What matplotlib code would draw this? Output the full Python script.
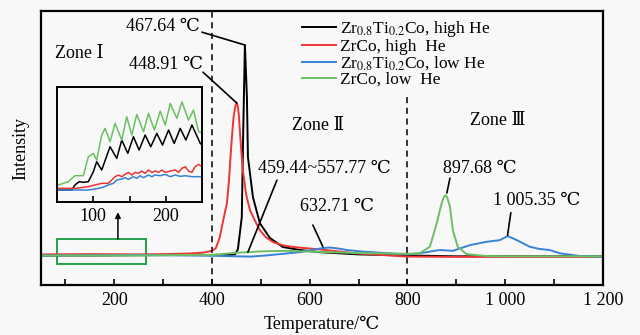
import matplotlib
matplotlib.use("Agg")
import matplotlib.pyplot as plt
from matplotlib.patches import Rectangle

plt.rcParams['font.family'] = ['Liberation Serif', 'DejaVu Serif', 'Noto Sans CJK SC']
plt.rcParams['mathtext.fontset'] = 'stix'
plt.rcParams['font.size'] = 13

# ---- main curves (temperature in C, intensity in a.u.) ----
black_t = [50, 150, 250, 350, 400, 440, 447, 453, 461, 464, 467.4, 471.5, 473.6, 483.8,
           498, 518.5, 545, 580, 621, 700, 800, 900, 1000, 1100, 1200]
black_i = [0.108, 0.108, 0.109, 0.110, 0.110, 0.110, 0.112, 0.13, 0.248, 0.566, 0.876, 0.686,
           0.467, 0.321, 0.226, 0.172, 0.139, 0.128, 0.120, 0.112, 0.108, 0.105, 0.105, 0.105, 0.105]

red_t = [50, 150, 250, 300, 350, 380, 400, 408, 416, 424, 430.6, 434.7, 438, 440.8, 444, 447,
         449, 451, 453, 455, 457, 460, 463, 470, 477.6, 488, 498, 510, 524.7, 545, 565.6, 621,
         700, 800, 900, 1000, 1100, 1200]
red_i = [0.112, 0.113, 0.112, 0.113, 0.115, 0.118, 0.125, 0.135, 0.175, 0.245, 0.299, 0.38,
         0.47, 0.54, 0.61, 0.645, 0.660, 0.664, 0.652, 0.62, 0.566, 0.49, 0.42, 0.33, 0.274,
         0.235, 0.200, 0.175, 0.157, 0.145, 0.139, 0.130, 0.115, 0.104, 0.103, 0.103, 0.103,
         0.103]

blue_t = [50, 150, 250, 350, 400, 450, 480, 510, 550, 580, 610, 627, 641, 660, 676, 710, 744,
          799, 825, 845, 866, 893, 910, 928, 962, 989, 1005, 1024, 1050, 1070, 1091, 1112,
          1153, 1200]
blue_i = [0.108, 0.109, 0.110, 0.108, 0.107, 0.105, 0.104, 0.108, 0.115, 0.120, 0.130, 0.135,
          0.137, 0.133, 0.128, 0.122, 0.118, 0.112, 0.116, 0.122, 0.128, 0.125, 0.135, 0.146,
          0.158, 0.164, 0.179, 0.164, 0.140, 0.132, 0.128, 0.116, 0.106, 0.103]

green_t = [50, 150, 250, 350, 400, 450, 500, 550, 600, 700, 800, 825, 846, 860, 868, 872, 875,
           878, 881, 887, 893, 903, 921, 962, 1000, 1100, 1200]
green_i = [0.108, 0.108, 0.108, 0.110, 0.110, 0.118, 0.123, 0.125, 0.122, 0.117, 0.114, 0.116,
           0.140, 0.226, 0.285, 0.310, 0.322, 0.328, 0.322, 0.286, 0.200, 0.140, 0.113, 0.106,
           0.105, 0.105, 0.105]

# ---- inset (zone I, magnified, a.u.) ----
in_green_t = [51.8, 65.6, 74.8, 86.3, 93.2, 100.1, 104.7, 111.6, 116.2, 123.1, 130, 139.2, 146.1,
              153, 159.9, 169.1, 176, 184.2, 192.1, 199, 205.9, 215.1, 222, 231.1, 238, 245, 251.8]
in_green_i = [51, 61, 79, 79, 136, 146, 126, 201, 221, 181, 236, 186, 256, 201, 263, 211, 266,
              216, 273, 231, 296, 251, 301, 246, 276, 211, 206]

in_black_t = [51.8, 70, 74.8, 80.6, 86.3, 93.2, 100.1, 104.7, 111.6, 123.1, 132.3, 139.2, 147.5,
              155.3, 163.1, 171.4, 179.2, 187.5, 195.3, 203.6, 211.4, 219.7, 227.5, 235.8, 247.3,
              251.8]
in_black_i = [36, 36, 51, 61, 59, 61, 91, 121, 96, 166, 131, 186, 146, 196, 156, 201, 166, 206,
              171, 216, 176, 221, 186, 231, 176, 166]

in_red_t = [51.8, 74.8, 93.2, 102, 111.6, 120.8, 125.4, 130, 134.6, 139.2, 143.8, 148.4, 153,
            157.6, 162.2, 166.8, 171.4, 176, 180.6, 185.2, 189.8, 194.4, 199, 205.9, 212.8,
            217.4, 222, 226.6, 231.1, 235.7, 240.3, 245, 249.5, 251.8]
in_red_i = [41, 41, 46, 51, 56, 56, 66, 76, 81, 76, 83, 89, 81, 89, 86, 93, 86, 96, 89, 93, 89,
            96, 89, 93, 96, 89, 101, 106, 93, 89, 106, 113, 106, 111]

in_blue_t = [51.8, 93.2, 102, 111.6, 120.8, 127.7, 132.3, 139.2, 143.8, 148.4, 155.3, 159.9,
             164.5, 169.1, 176, 180.6, 185.2, 192.1, 199, 205.9, 212.8, 219.7, 226.6, 235.7,
             245, 251.8]
in_blue_i = [36, 36, 39, 43, 51, 56, 66, 69, 73, 68, 76, 71, 79, 73, 81, 76, 81, 79, 83, 76, 81,
             77, 79, 76, 76, 76]

labels = ['Zr$_{0.8}$Ti$_{0.2}$Co, high He', 'ZrCo, high  He',
          'Zr$_{0.8}$Ti$_{0.2}$Co, low He', 'ZrCo, low  He']
colors = ['#000000', '#f03434', '#3a82d6', '#6cbf62']

bg = '#f8f8f8'
fig = plt.figure(figsize=(6.4, 3.35), dpi=100, facecolor=bg)
ax = fig.add_axes([0.064, 0.149, 0.878, 0.818])
ax.set_facecolor(bg)

series = [(black_t, black_i), (red_t, red_i), (blue_t, blue_i), (green_t, green_i)]
for (t, i), c, lab in zip(series, colors, labels):
    ax.plot(t, i, color=c, lw=1.4, label=lab)

ax.set_xlim(50, 1200)
ax.set_ylim(0, 1)
ax.set_xticks([200, 400, 600, 800, 1000, 1200], ['200', '400', '600', '800', '1 000', '1 200'])
ax.set_xticks([100, 300, 500, 700, 900, 1100], minor=True)
ax.set_yticks([])
ax.tick_params(axis='x', which='both', direction='in', length=4, width=1.2, pad=5)
for s in ax.spines.values():
    s.set_linewidth(1.6)

ax.axvline(400, color='k', ls=(0, (4, 3)), lw=1.1)
ax.axvline(800, color='k', ls=(0, (4, 3)), lw=1.1, ymax=0.7)

ax.set_xlabel('Temperature/℃', labelpad=5)
ax.set_ylabel('Intensity', labelpad=8)

leg = ax.legend(loc='upper left', bbox_to_anchor=(0.464, 0.97), frameon=False, fontsize=12.5,
                handlelength=2.0, handletextpad=0.2, labelspacing=-0.03, borderpad=0,
                borderaxespad=0)

# zone labels
ax.text(78.6, 0.845, 'Zone Ⅰ', va='center', ha='left')
ax.text(563.5, 0.584, 'Zone Ⅱ', va='center', ha='left')
ax.text(928, 0.60, 'Zone Ⅲ', va='center', ha='left')

# peak annotations
line_kw = dict(arrowstyle='-', lw=1.2, color='k', shrinkA=0, shrinkB=0)
ax.text(375, 0.942, '467.64 ℃', ha='right', va='center')
ax.annotate('', xy=(467.4, 0.876), xytext=(379.4, 0.923), arrowprops=line_kw)
ax.text(381, 0.805, '448.91 ℃', ha='right', va='center')
ax.annotate('', xy=(451, 0.664), xytext=(381.5, 0.777), arrowprops=line_kw)
ax.text(494, 0.427, '459.44~557.77 ℃', ha='left', va='center')
ax.annotate('', xy=(473.5, 0.12), xytext=(532.9, 0.383), arrowprops=line_kw)
ax.text(580, 0.288, '632.71 ℃', ha='left', va='center')
ax.annotate('', xy=(627, 0.14), xytext=(606.5, 0.219), arrowprops=line_kw)
ax.text(872.5, 0.427, '897.68 ℃', ha='left', va='center')
ax.annotate('', xy=(880.7, 0.336), xytext=(887, 0.39), arrowprops=line_kw)
ax.text(975, 0.31, '1 005.35 ℃', ha='left', va='center')
ax.annotate('', xy=(1004.9, 0.182), xytext=(1011.6, 0.264), arrowprops=line_kw)

# zoom box and arrow
ax.add_patch(Rectangle((82.7, 0.077), 182, 0.091, fill=False, ec='#22a04a', lw=1.4))
ax.annotate('', xy=(207.5, 0.266), xytext=(207.5, 0.168),
            arrowprops=dict(arrowstyle='-|>', lw=1.1, color='k', mutation_scale=8,
                            shrinkA=0, shrinkB=0))

# inset
axin = fig.add_axes([0.089, 0.397, 0.227, 0.343])
axin.set_facecolor(bg)
inset = [(in_black_t, in_black_i), (in_red_t, in_red_i), (in_blue_t, in_blue_i),
         (in_green_t, in_green_i)]
for (t, i), c in zip(inset, colors):
    axin.plot(t, i, color=c, lw=1.1)
axin.set_xlim(50, 250)
axin.set_ylim(0, 345)
axin.set_xticks([100, 200])
axin.set_xticks([150], minor=True)
axin.set_yticks([])
axin.tick_params(axis='x', which='both', direction='in', length=4, width=1.2, pad=4)
for s in axin.spines.values():
    s.set_linewidth(1.4)

fig.savefig('out.png', dpi=100, facecolor=bg)
